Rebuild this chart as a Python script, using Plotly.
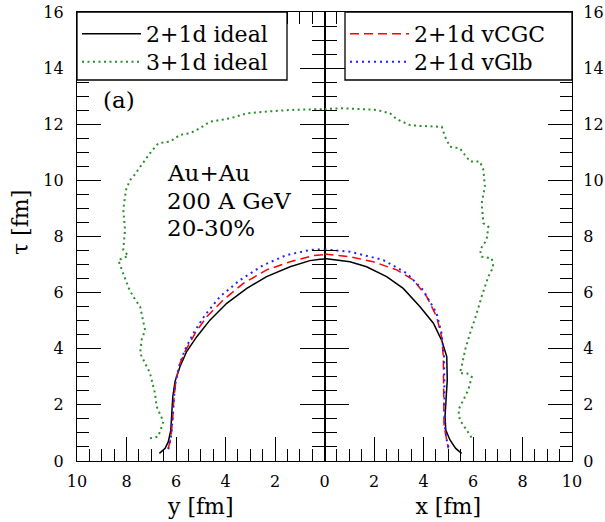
import plotly.graph_objects as go

# ---------------- data ----------------
# left panel: lateral coordinate y [fm] vs tau [fm]
ideal21_left_y = [6.67, 6.44, 6.31, 6.21, 6.17, 6.13, 6.04, 5.84, 5.57, 5.16, 4.63, 3.95, 3.14, 2.34, 1.39, 0.59, 0.18, 0.0]
ideal21_left_tau = [0.27, 0.45, 0.69, 1.10, 1.70, 2.29, 2.83, 3.36, 3.90, 4.43, 5.02, 5.62, 6.15, 6.57, 6.92, 7.14, 7.19, 7.20]

vcgc_left_y = [6.31, 6.20, 6.13, 6.08, 6.00, 5.84, 5.60, 5.23, 4.76, 4.09, 3.28, 2.34, 1.39, 0.45, 0.0]
vcgc_left_tau = [0.45, 0.87, 1.58, 2.29, 2.89, 3.48, 3.96, 4.55, 5.14, 5.74, 6.33, 6.81, 7.10, 7.32, 7.35]

vglb_left_y = [6.31, 6.20, 6.13, 6.08, 6.00, 5.84, 5.64, 5.30, 4.83, 4.22, 3.41, 2.47, 1.53, 0.59, 0.0]
vglb_left_tau = [0.42, 0.87, 1.58, 2.29, 2.89, 3.48, 3.96, 4.55, 5.20, 5.86, 6.45, 6.98, 7.34, 7.52, 7.55]

ideal31_left_y = [7.05, 6.72, 6.51, 6.78, 6.85, 7.05, 7.45, 7.39, 7.25, 7.45, 7.73, 7.89, 8.19, 8.33, 7.93, 8.13,
                  8.06, 8.13, 8.02, 7.86, 7.73, 7.45, 7.05, 6.72, 6.24, 5.84, 5.43, 5.03, 4.63, 3.82, 3.14, 2.34, 1.39, 0.0]
ideal31_left_tau = [0.81, 0.87, 1.40, 1.94, 2.41, 3.13, 3.84, 4.31, 4.67, 5.50, 5.86, 6.12, 6.81, 7.16, 7.31, 7.52,
                    8.23, 8.95, 9.66, 10.01, 10.13, 10.49, 10.97, 11.32, 11.38, 11.62, 11.68, 11.86, 12.09, 12.21,
                    12.39, 12.45, 12.51, 12.54]

# right panel: lateral coordinate x [fm] vs tau [fm]
ideal21_right_x = [0.0, 1.03, 1.70, 2.51, 3.18, 3.86, 4.40, 4.73, 4.94, 4.96, 4.91, 4.87, 4.90, 5.07, 5.30, 5.54]
ideal21_right_tau = [7.22, 7.10, 6.92, 6.57, 6.15, 5.50, 4.91, 4.31, 3.72, 2.89, 2.17, 1.58, 1.10, 0.75, 0.45, 0.27]

vcgc_right_x = [0.0, 1.03, 1.97, 2.92, 3.59, 4.13, 4.53, 4.73, 4.80, 4.80, 4.80, 4.83, 4.94, 5.00]
vcgc_right_tau = [7.38, 7.28, 7.10, 6.81, 6.45, 5.86, 5.14, 4.43, 3.72, 2.89, 2.17, 1.22, 0.75, 0.45]

vglb_right_x = [0.0, 1.03, 2.38, 3.32, 3.99, 4.53, 4.73, 4.83, 4.84, 4.84, 4.86, 4.94, 5.02]
vglb_right_tau = [7.54, 7.46, 7.16, 6.69, 6.09, 5.26, 4.55, 3.72, 2.89, 2.17, 1.22, 0.75, 0.45]

ideal31_right_x = [0.0, 0.76, 2.11, 2.65, 2.92, 3.45, 3.86, 4.74, 4.87, 5.07, 5.47, 5.88, 6.28, 6.42, 6.48, 6.35,
                   6.42, 6.62, 6.55, 6.28, 6.35, 6.76, 6.82, 6.62, 6.35, 6.15, 5.88, 5.68, 5.54, 5.47, 5.75, 5.95,
                   5.81, 5.61, 5.41, 5.47, 5.75, 5.95, 6.01]
ideal31_right_tau = [12.54, 12.57, 12.51, 12.39, 12.18, 11.97, 11.94, 11.91, 11.56, 11.20, 11.14, 10.67, 10.67,
                     10.37, 9.78, 9.18, 8.47, 8.35, 7.88, 7.52, 7.28, 7.22, 6.92, 6.57, 5.86, 5.26, 4.55, 3.96,
                     3.36, 3.13, 3.13, 3.00, 2.53, 2.17, 1.82, 1.46, 1.10, 0.87, 0.75]

x_ticks_left = [2, 4, 6, 8, 10]
x_ticks_right = [0, 2, 4, 6, 8, 10]
tau_ticks = [0, 2, 4, 6, 8, 10, 12, 14, 16]

names = ["2+1d ideal", "3+1d ideal", "2+1d vCGC", "2+1d vGlb"]
info_text = ["Au+Au", "200 A GeV", "20-30%"]
info_tau = [10.28, 9.25, 8.30]

# ---------------- styles ----------------
FONT = "DejaVu Serif"
BLACK = "#000000"
GREEN = "#2a8f2a"
RED = "#ff0000"
BLUE = "#2222ff"

fig = go.Figure()

def add(x, y, xa, ya, name, color, width, dash, legend, show):
    fig.add_trace(go.Scatter(x=x, y=y, xaxis=xa, yaxis=ya, mode="lines", name=name,
                             line=dict(color=color, width=width, dash=dash),
                             legend=legend, showlegend=show, hoverinfo="skip"))

# one legend box per entry so the row spacing matches the reference
add(ideal21_left_y, ideal21_left_tau, "x", "y", names[0], BLACK, 1.5, "solid", "legend", True)
add(ideal31_left_y, ideal31_left_tau, "x", "y", names[1], GREEN, 2, "2px,3.5px", "legend3", True)
add(ideal21_right_x, ideal21_right_tau, "x2", "y2", names[0], BLACK, 1.5, "solid", "legend", False)
add(ideal31_right_x, ideal31_right_tau, "x2", "y2", names[1], GREEN, 2, "2px,3.5px", "legend3", False)
add(vcgc_left_y, vcgc_left_tau, "x", "y", names[2], RED, 1.5, "9px,5px", "legend2", False)
add(vglb_left_y, vglb_left_tau, "x", "y", names[3], BLUE, 2, "2px,4px", "legend4", False)
add(vcgc_right_x, vcgc_right_tau, "x2", "y2", names[2], RED, 1.5, "9px,5px", "legend2", True)
add(vglb_right_x, vglb_right_tau, "x2", "y2", names[3], BLUE, 2, "2px,4px", "legend4", True)

common_axis = dict(showline=True, linecolor="black", linewidth=1.3, mirror="ticks",
                   ticks="inside", ticklen=24, tickwidth=1.2, tickcolor="black",
                   showgrid=False, zeroline=False, automargin=False,
                   tickfont=dict(family=FONT, size=16, color="black"),
                   minor=dict(ticks="inside", ticklen=12, tickwidth=1.2, tickcolor="black",
                              tickmode="linear", tick0=0, dtick=0.5, showgrid=False))

H = 449.0  # plot height in px, for placing legends
row1 = (461 - 13) / H
row2 = (461 - 41) / H
xl = 0.0
xr = (345 - 77) / 495


def leg(x, y):
    return dict(x=x, y=y, xanchor="left", yanchor="top", bgcolor="rgba(0,0,0,0)",
                borderwidth=0, itemwidth=59, font=dict(family=FONT, size=22, color="black"),
                tracegroupgap=0)


fig.update_layout(
    width=605, height=522,
    margin=dict(l=77, r=33, t=12, b=61, autoexpand=False),
    paper_bgcolor="white", plot_bgcolor="white",
    font=dict(family=FONT, color="black"),
    xaxis=dict(domain=[0, 0.5], range=[10, 0], anchor="y", tickmode="array", tickvals=x_ticks_left,
               ticklabelstandoff=6,
               title=dict(text="y [fm]", font=dict(family=FONT, size=22), standoff=8), **common_axis),
    xaxis2=dict(domain=[0.5, 1], range=[0, 10], anchor="y2", tickmode="array", tickvals=x_ticks_right,
                ticklabelstandoff=6,
                title=dict(text="x [fm]", font=dict(family=FONT, size=22), standoff=8), **common_axis),
    yaxis=dict(domain=[0, 1], range=[0, 16], anchor="x", side="left", tickmode="array", tickvals=tau_ticks,
               ticklabelstandoff=9, **common_axis),
    yaxis2=dict(domain=[0, 1], range=[0, 16], anchor="x2", side="right", matches="y", tickmode="array",
                tickvals=tau_ticks, ticklabelstandoff=7, **common_axis),
    legend=leg(xl, row1),
    legend3=leg(xl, row2),
    legend2=leg(xr, row1),
    legend4=leg(xr, row2),
    showlegend=True,
)

# legend frames (white boxes hiding the top ticks, like the reference)
box_bottom = (461 - 80) / H
fig.add_shape(type="rect", xref="paper", yref="paper", x0=0, x1=(287 - 77) / 495, y0=box_bottom, y1=1,
              fillcolor="white", line=dict(color="black", width=1.3), layer="above")
fig.add_shape(type="rect", xref="paper", yref="paper", x0=xr, x1=1, y0=box_bottom, y1=1,
              fillcolor="white", line=dict(color="black", width=1.3), layer="above")

fig.add_annotation(text="(a)", xref="x", yref="y", x=8.3, y=12.88, showarrow=False,
                   font=dict(family=FONT, size=23, color="black"))
for txt, tv in zip(info_text, info_tau):
    fig.add_annotation(text=txt, xref="x", yref="y", x=6.44, y=tv, xanchor="left",
                       yanchor="middle", align="left", showarrow=False,
                       font=dict(family=FONT, size=23, color="black"))
fig.add_annotation(text="τ [fm]", xref="paper", yref="paper", x=-0.115, y=0.53, textangle=-90,
                   xanchor="center", yanchor="middle",
                   showarrow=False, font=dict(family=FONT, size=22, color="black"))

fig.write_html("out.html")
